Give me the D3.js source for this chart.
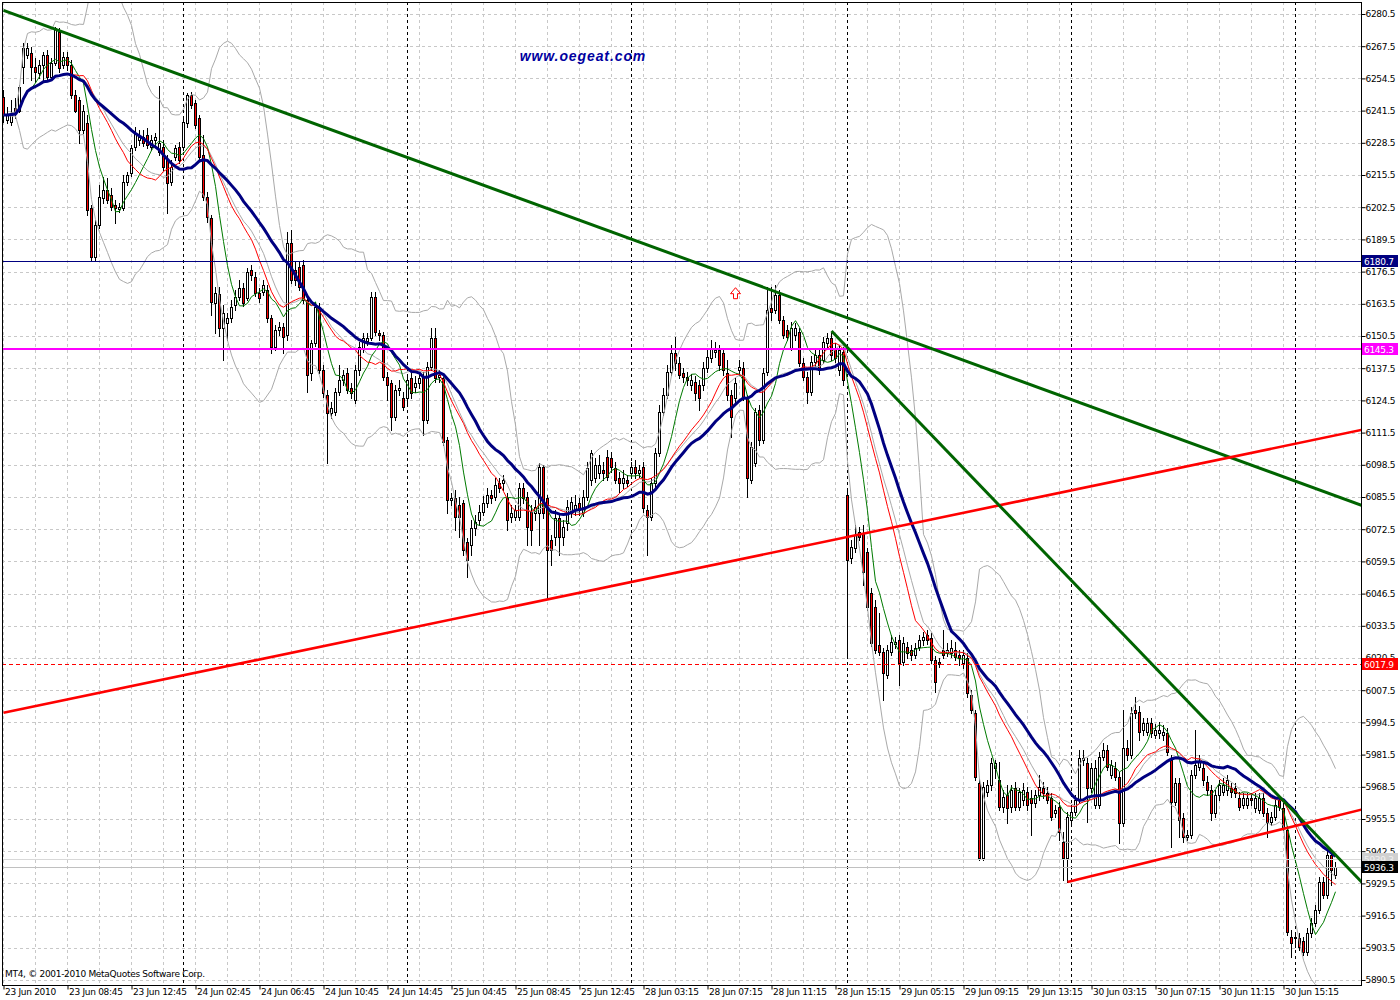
<!DOCTYPE html>
<html><head><meta charset="utf-8">
<script src="https://cdn.jsdelivr.net/npm/d3@7"></script>
<style>
body{margin:0;background:#fff;}
svg{display:block;}
text{font-family:'DejaVu Sans','Liberation Sans',Arial,sans-serif;}
</style>
</head><body>
<svg id="c" width="1400" height="1000"></svg>
<script>
// ---------------- DATA (15-minute candles, index 0..333) ----------------
const opens=[
6247.0,6237.7,6236.9,6242.5,6241.3,6259.1,6263.9,6264.8,6259.1,6256.7,
6259.9,6263.9,6255.1,6260.7,6273.2,6259.9,6263.1,6259.9,6247.8,6245.8,
6233.7,6236.5,6202.2,6182.4,6195.3,6206.2,6209.4,6207.4,6203.4,6201.8,
6202.2,6212.7,6216.3,6226.8,6229.6,6230.9,6231.6,6226.8,6229.6,6224.8,
6226.8,6221.6,6212.7,6222.8,6226.8,6226.8,6236.5,6247.8,6244.6,6238.5,
6223.6,6206.6,6198.1,6163.8,6167.4,6153.7,6155.8,6157.8,6163.0,6166.2,
6169.9,6165.8,6177.1,6174.3,6167.8,6168.2,6169.1,6157.8,6146.1,6152.9,
6154.2,6150.9,6188.0,6177.1,6178.3,6179.2,6165.0,6135.6,6147.7,6162.2,
6136.8,6126.7,6119.4,6119.8,6128.0,6132.8,6135.6,6129.5,6124.7,6136.8,
6145.7,6148.5,6149.7,6166.2,6151.7,6150.9,6134.0,6131.5,6117.8,6128.7,
6125.5,6125.5,6133.6,6129.9,6131.5,6134.0,6116.6,6138.0,6149.7,6134.0,
6133.6,6108.5,6084.3,6085.1,6082.3,6083.1,6067.4,6066.3,6072.9,6076.2,
6079.5,6083.1,6086.3,6085.5,6091.2,6091.2,6085.1,6077.4,6077.4,6077.4,
6089.2,6085.5,6079.5,6079.1,6079.1,6097.6,6085.1,6068.2,6069.4,6077.0,
6069.4,6075.0,6079.1,6080.3,6083.1,6079.1,6085.5,6092.5,6093.2,6095.2,
6096.4,6101.6,6101.2,6097.2,6093.2,6091.2,6092.5,6095.2,6097.6,6095.2,
6097.6,6080.3,6077.4,6091.2,6103.3,6119.8,6126.7,6136.0,6143.7,6139.6,
6135.6,6134.0,6130.7,6131.9,6130.7,6130.7,6137.6,6141.6,6144.1,6144.9,
6143.7,6135.6,6126.7,6125.5,6136.8,6137.6,6125.9,6092.5,6099.2,6120.6,
6108.5,6136.0,6161.7,6161.0,6167.0,6157.0,6152.9,6145.7,6150.9,6152.1,
6139.6,6134.0,6128.0,6140.0,6142.8,6140.8,6147.7,6149.7,6145.7,6136.8,
6144.1,6086.3,6060.9,6064.9,6071.4,6071.0,6063.3,6046.8,6041.1,6025.8,
6022.9,6013.7,6022.9,6026.2,6027.8,6018.9,6025.0,6023.7,6021.7,6025.0,
6027.8,6029.8,6028.6,6019.7,6018.9,6023.7,6022.5,6022.5,6023.7,6021.7,
6018.5,6020.5,6005.6,5998.4,5970.0,5939.8,5966.4,5969.2,5976.1,5971.3,
5960.4,5965.2,5960.4,5968.0,5960.4,5963.2,5966.4,5964.0,5962.0,5965.2,
5968.0,5966.0,5964.0,5957.9,5960.4,5946.3,5939.8,5955.1,5958.3,5963.2,
5979.3,5978.1,5968.0,5961.2,5961.2,5980.6,5983.3,5973.3,5976.1,5972.5,
5953.9,5984.2,5981.4,5999.5,5998.7,5991.4,5990.6,5994.3,5989.4,5990.2,
5989.4,5990.2,5979.3,5962.4,5970.0,5955.9,5948.3,5949.1,5973.3,5976.5,
5976.1,5970.5,5967.2,5957.9,5965.2,5966.4,5967.2,5968.0,5968.0,5964.0,
5961.2,5961.2,5964.0,5959.9,5959.2,5964.0,5957.9,5954.3,5956.3,5963.2,
5959.9,5951.1,5907.9,5907.5,5907.5,5906.3,5901.8,5909.5,5913.5,5918.8,
5930.1,5924.9,5941.0,5932.9];
const highs=[
6249.8,6243.0,6245.8,6246.6,6251.8,6268.8,6268.8,6267.2,6262.7,6261.9,
6265.2,6266.0,6262.7,6275.3,6274.8,6265.2,6265.2,6261.9,6249.8,6247.0,
6243.8,6239.7,6203.4,6197.3,6211.5,6214.7,6214.3,6210.3,6205.4,6204.2,
6215.5,6216.7,6227.6,6234.9,6233.7,6233.7,6234.5,6231.6,6232.5,6251.4,
6229.6,6223.6,6221.6,6227.6,6228.8,6238.5,6248.6,6249.0,6245.8,6239.7,
6231.6,6208.6,6199.4,6170.3,6170.3,6163.0,6159.8,6165.0,6169.1,6173.1,
6171.9,6177.9,6179.2,6176.3,6169.9,6173.1,6171.1,6159.0,6155.0,6156.2,
6155.8,6192.5,6193.3,6180.3,6180.3,6181.1,6166.6,6148.7,6164.2,6163.8,
6138.8,6128.7,6123.9,6129.5,6138.8,6136.8,6137.6,6131.5,6138.8,6148.1,
6151.7,6151.7,6168.2,6168.2,6152.9,6152.1,6136.0,6132.8,6130.7,6132.8,
6128.0,6134.8,6136.0,6134.4,6136.0,6136.0,6140.0,6153.7,6153.7,6136.8,
6135.6,6109.7,6087.1,6088.3,6085.5,6084.3,6069.0,6076.2,6078.2,6082.3,
6086.0,6089.2,6088.3,6093.2,6093.2,6094.4,6087.1,6082.3,6082.3,6091.2,
6091.2,6087.7,6082.3,6084.3,6099.2,6098.4,6086.3,6070.2,6080.3,6079.1,
6076.2,6084.3,6085.5,6086.3,6085.1,6088.3,6099.6,6104.5,6101.2,6102.4,
6099.6,6104.5,6103.7,6099.6,6095.6,6096.4,6094.4,6099.6,6100.4,6098.4,
6099.6,6082.3,6093.2,6105.3,6122.7,6129.5,6138.8,6146.9,6150.1,6142.0,
6137.6,6136.0,6135.2,6134.4,6132.8,6140.0,6144.9,6148.9,6148.1,6146.9,
6145.7,6140.8,6128.7,6133.6,6140.8,6140.0,6126.7,6107.7,6121.4,6122.7,
6137.6,6170.3,6170.3,6171.1,6169.1,6158.6,6155.0,6156.2,6155.8,6153.7,
6141.6,6136.0,6142.4,6144.9,6144.9,6150.1,6151.7,6151.7,6147.7,6146.9,
6146.1,6088.3,6068.2,6074.2,6073.4,6074.2,6064.9,6048.8,6043.9,6038.7,
6024.5,6025.8,6029.8,6029.0,6029.8,6029.0,6027.0,6025.8,6026.6,6029.8,
6031.0,6031.8,6030.6,6021.3,6020.5,6031.8,6026.6,6027.8,6027.0,6023.7,
6023.7,6022.5,6007.6,5999.5,5972.1,5970.5,5971.3,5980.2,5979.3,5978.5,
5967.2,5969.2,5969.2,5970.5,5968.0,5970.0,5968.4,5967.2,5967.2,5973.3,
5970.5,5968.4,5966.0,5961.2,5962.4,5950.3,5958.3,5961.2,5965.3,5983.3,
5983.3,5980.2,5978.1,5979.3,5982.5,5986.2,5985.4,5979.3,5978.5,5974.5,
5999.5,5987.5,6000.7,6004.8,6001.1,5996.3,5996.3,5996.3,5993.9,5994.7,
5993.5,5992.2,5981.4,5972.1,5972.1,5957.9,5951.1,5975.3,5991.4,5981.4,
5978.1,5972.9,5969.2,5967.2,5971.3,5972.1,5973.3,5970.0,5970.0,5966.4,
5966.0,5966.0,5966.0,5966.0,5966.0,5966.0,5959.9,5958.3,5963.2,5965.2,
5962.0,5952.7,5910.7,5909.5,5909.5,5907.9,5911.5,5915.6,5920.8,5932.1,
5932.1,5943.0,5942.2,5938.2];
const lows=[
6236.9,6236.5,6235.7,6238.5,6240.9,6252.6,6262.7,6253.9,6253.1,6254.7,
6253.1,6253.9,6253.9,6259.9,6257.1,6258.7,6257.9,6246.6,6240.9,6228.4,
6232.5,6199.4,6181.1,6181.1,6194.1,6204.2,6204.2,6201.4,6196.1,6200.6,
6201.4,6211.5,6215.1,6225.6,6227.6,6227.2,6226.4,6225.6,6227.6,6223.6,
6217.5,6200.2,6211.5,6221.6,6220.4,6225.6,6234.9,6242.5,6234.5,6221.6,
6205.4,6196.5,6159.0,6151.7,6150.5,6140.8,6148.9,6156.2,6161.0,6165.0,
6162.6,6165.0,6173.1,6166.6,6164.2,6167.0,6156.2,6143.7,6144.9,6150.9,
6143.7,6148.7,6171.9,6171.1,6169.1,6163.8,6128.0,6132.8,6146.5,6135.6,
6125.9,6099.2,6117.4,6118.6,6126.7,6130.7,6127.5,6125.5,6123.5,6134.8,
6144.1,6146.9,6148.9,6150.9,6148.9,6132.8,6124.7,6112.6,6116.6,6126.7,
6120.6,6122.7,6125.5,6128.0,6129.5,6110.6,6115.4,6136.8,6131.9,6131.9,
6106.5,6079.1,6082.3,6072.2,6069.4,6062.1,6053.2,6062.1,6070.2,6074.2,
6078.2,6081.5,6083.1,6084.3,6087.7,6088.3,6072.2,6075.4,6076.2,6076.2,
6083.1,6066.3,6066.3,6076.2,6066.3,6077.0,6044.7,6058.1,6066.3,6062.1,
6066.3,6072.2,6077.4,6078.2,6078.2,6077.8,6084.3,6090.4,6091.6,6093.2,
6092.5,6092.5,6095.6,6091.2,6087.7,6089.2,6089.9,6093.6,6093.2,6093.6,
6079.5,6062.1,6076.2,6089.5,6102.0,6118.6,6125.5,6134.8,6136.8,6133.6,
6131.9,6130.7,6128.7,6124.7,6120.6,6128.7,6136.0,6140.0,6142.0,6136.8,
6134.8,6124.7,6109.7,6123.9,6134.8,6124.7,6085.5,6091.2,6098.0,6106.5,
6107.3,6134.8,6157.0,6159.8,6155.8,6149.7,6148.9,6144.9,6148.9,6138.4,
6132.8,6123.5,6126.7,6138.4,6135.2,6139.6,6146.1,6140.8,6140.0,6134.8,
6130.7,6020.9,6058.9,6063.3,6068.2,6050.0,6039.9,6025.4,6022.5,6021.7,
6003.6,6012.4,6021.7,6024.5,6009.6,6017.7,6020.5,6019.7,6020.5,6023.7,
6025.8,6026.2,6018.5,6006.8,6016.9,6020.5,6021.3,6020.9,6019.7,6017.7,
6016.5,6004.8,5998.4,5971.3,5939.0,5939.0,5964.8,5967.2,5972.1,5959.2,
5958.3,5953.9,5958.3,5959.2,5959.2,5961.2,5959.2,5949.1,5960.4,5963.2,
5964.0,5962.0,5955.1,5956.3,5947.1,5930.9,5930.1,5953.9,5957.1,5962.0,
5977.3,5954.3,5966.4,5959.9,5959.9,5979.3,5975.3,5972.1,5971.3,5945.9,
5952.7,5979.3,5980.2,5996.3,5987.5,5989.4,5989.4,5988.6,5988.2,5988.2,
5987.5,5981.4,5944.3,5961.2,5948.3,5946.3,5947.1,5947.9,5972.1,5975.3,
5969.2,5965.2,5955.1,5956.3,5963.2,5965.2,5965.2,5964.4,5964.4,5959.2,
5959.9,5959.9,5961.2,5958.3,5957.9,5956.7,5948.3,5953.1,5955.1,5959.2,
5951.1,5908.7,5899.8,5903.9,5902.6,5900.6,5900.6,5907.9,5912.3,5917.6,
5923.6,5923.6,5928.9,5931.7];
const closes=[
6239.7,6239.7,6240.5,6240.5,6251.0,6266.8,6266.8,6259.1,6257.1,6259.9,
6263.9,6255.1,6260.7,6274.8,6258.7,6263.1,6259.9,6247.8,6241.3,6233.7,
6241.3,6201.4,6182.4,6195.3,6206.6,6209.4,6205.4,6202.6,6202.2,6202.6,
6212.7,6215.5,6226.4,6232.5,6230.9,6228.4,6227.6,6229.6,6230.9,6228.4,
6218.7,6212.3,6218.7,6226.4,6221.6,6236.9,6247.8,6243.8,6235.7,6222.8,
6206.6,6198.6,6164.2,6167.8,6153.7,6159.8,6157.8,6162.2,6166.2,6169.9,
6163.8,6176.3,6175.1,6167.8,6165.8,6171.1,6157.8,6146.1,6152.9,6154.2,
6150.1,6188.0,6173.1,6173.1,6170.3,6165.0,6134.8,6147.7,6162.2,6136.8,
6127.5,6119.4,6121.4,6128.0,6132.8,6134.8,6128.7,6127.5,6136.8,6146.1,
6149.7,6149.7,6166.2,6152.1,6150.9,6134.0,6130.7,6117.8,6128.7,6129.5,
6121.8,6132.8,6127.5,6131.5,6133.6,6116.6,6138.0,6149.7,6133.6,6134.8,
6107.7,6084.3,6085.1,6077.4,6077.4,6064.1,6060.2,6072.9,6075.4,6079.5,
6083.1,6086.3,6085.1,6090.4,6089.2,6092.5,6076.2,6079.1,6080.3,6089.2,
6085.1,6073.4,6072.2,6081.5,6097.6,6079.1,6064.1,6064.1,6077.0,6069.4,
6073.4,6081.5,6083.5,6082.3,6080.3,6085.5,6097.2,6103.3,6098.4,6098.4,
6095.2,6093.6,6097.6,6092.5,6091.2,6093.2,6091.2,6097.6,6095.2,6096.4,
6081.1,6077.4,6091.2,6103.3,6119.8,6126.7,6136.0,6143.7,6139.6,6134.8,
6134.0,6132.8,6132.8,6127.5,6125.5,6137.6,6142.0,6145.7,6144.9,6138.8,
6136.8,6126.7,6117.8,6131.5,6138.0,6125.9,6093.2,6105.7,6119.8,6108.5,
6135.6,6161.0,6160.2,6167.0,6157.0,6150.9,6150.1,6153.7,6153.7,6139.6,
6134.0,6128.0,6140.0,6142.8,6136.8,6148.1,6149.7,6142.8,6141.6,6144.9,
6132.8,6060.2,6065.3,6070.2,6069.4,6055.2,6041.1,6026.6,6023.7,6022.9,
6014.5,6023.7,6027.0,6027.0,6018.5,6026.6,6022.5,6021.7,6024.5,6027.8,
6029.0,6027.8,6019.7,6010.8,6018.1,6021.7,6023.7,6024.5,6020.9,6020.5,
6021.7,6006.4,5999.5,5972.5,5939.8,5968.4,5969.2,5978.1,5978.1,5960.4,
5964.4,5959.9,5967.2,5960.4,5966.4,5967.2,5961.2,5962.0,5965.2,5968.4,
5966.0,5963.2,5956.3,5959.2,5950.3,5939.8,5956.3,5958.3,5963.2,5980.2,
5980.2,5968.0,5976.1,5976.1,5980.6,5983.3,5976.5,5977.3,5972.5,5953.9,
5984.2,5981.4,5998.3,5998.3,5990.6,5994.3,5994.3,5990.2,5991.4,5991.4,
5990.6,5982.5,5962.4,5970.0,5955.1,5948.3,5949.1,5973.3,5977.3,5978.5,
5971.3,5967.2,5957.9,5965.2,5969.2,5969.2,5971.3,5966.4,5966.0,5960.4,
5964.0,5964.0,5963.2,5964.0,5964.0,5957.9,5954.3,5956.3,5961.2,5960.4,
5952.3,5909.9,5905.5,5907.9,5903.9,5901.8,5909.5,5913.5,5918.8,5930.1,
5924.9,5941.0,5935.0,5936.3];

const timeLabels=["23 Jun 2010","23 Jun 08:45","23 Jun 12:45","24 Jun 02:45","24 Jun 06:45","24 Jun 10:45","24 Jun 14:45",
"25 Jun 04:45","25 Jun 08:45","25 Jun 12:45","28 Jun 03:15","28 Jun 07:15","28 Jun 11:15","28 Jun 15:15",
"29 Jun 05:15","29 Jun 09:15","29 Jun 13:15","30 Jun 03:15","30 Jun 07:15","30 Jun 11:15","30 Jun 15:15"];
const timeLabelBars=[0,16,32,48,64,80,96,112,128,144,160,176,192,208,224,240,256,272,288,304,320];
const daySeparatorBars=[45,101,157,211,267,323];
const priceTicks=[5890.5,5903.5,5916.5,5929.5,5942.5,5955.5,5968.5,5981.5,5994.5,6007.5,6020.5,6033.5,6046.5,6059.5,
6072.5,6085.5,6098.5,6111.5,6124.5,6137.5,6150.5,6163.5,6176.5,6189.5,6202.5,6215.5,6228.5,6241.5,6254.5,6267.5,6280.5];
const levelNavy=6180.7, levelMagenta=6145.3, levelRed=6017.9, askPrice=5939.3, bidPrice=5936.3;
// trend lines: [bar index, price] anchor pairs (drawn as rays to the right)
const trendGreenLong=[[0,6282.0],[333,6086.0]];
const trendRedLong=[[0,5998.4],[333,6110.4]];
const trendGreenSteep=[[207,6152.5],[333,5941.0]];
const trendRedShort=[[266,5930.1],[333,5956.7]];
const arrowMark=[183,6170.0];
const maFast=8, maMid=18, maSlow=27, bbPeriod=20, bbDev=2;

// ---------------- LAYOUT ----------------
const L=2,T=2,R=1361,B=985;
const n=closes.length;
const xs=d3.scaleLinear().domain([0,n-1]).range([3.5,3.5+4*(n-1)]);
const ys=d3.scaleLinear().domain([5890.5,6280.5]).range([980,14]);
const svg=d3.select('#c');
svg.append('rect').attr('width',1400).attr('height',1000).attr('fill','#fff');
svg.append('defs').append('clipPath').attr('id','clip').append('rect')
  .attr('x',L).attr('y',T).attr('width',R-L).attr('height',B-T);
const plot=svg.append('g').attr('clip-path','url(#clip)');
const ry=v=>Math.round(ys(v))+0.5;
const FS='9px', LS='-0.3px';

// grid
const grid=plot.append('g').attr('stroke','#c8c8c8').attr('stroke-width',1).attr('stroke-dasharray','3,3');
priceTicks.forEach(p=>grid.append('line').attr('x1',L).attr('x2',R).attr('y1',ry(p)).attr('y2',ry(p)));
d3.range(0,n,8).forEach(i=>{ if(daySeparatorBars.includes(i)) return;
  grid.append('line').attr('x1',xs(i)).attr('x2',xs(i)).attr('y1',T).attr('y2',B);});
// day separators
daySeparatorBars.forEach(i=>plot.append('line').attr('x1',xs(i)).attr('x2',xs(i)).attr('y1',T).attr('y2',B)
  .attr('stroke','#000').attr('stroke-dasharray','3,3'));

// candles
const cg=plot.append('g').attr('shape-rendering','crispEdges');
for(let i=0;i<n;i++){
  const cx=xs(i), o=opens[i], c=closes[i];
  const hy=Math.round(ys(highs[i])), ly=Math.round(ys(lows[i]));
  cg.append('rect').attr('x',cx-0.5).attr('width',1).attr('y',hy).attr('height',Math.max(1,ly-hy+1)).attr('fill','#000');
  const top=Math.round(ys(Math.max(o,c))), bot=Math.round(ys(Math.min(o,c)));
  cg.append('rect').attr('x',cx-1.5).attr('width',3).attr('y',top).attr('height',bot-top+1).attr('fill','#000');
  if(bot-top>=2) cg.append('rect').attr('x',cx-0.5).attr('width',1).attr('y',top+1).attr('height',bot-top-1)
      .attr('fill',c>=o?'#fff':'#ff0000');
}

// indicators
function sma(a,p){return a.map((_,i)=>d3.mean(a.slice(Math.max(0,i-p+1),i+1)));}
function sdev(a,p){return a.map((_,i)=>{const s=a.slice(Math.max(0,i-p+1),i+1);const m=d3.mean(s);
  return Math.sqrt(d3.mean(s.map(v=>(v-m)*(v-m))));});}
const mid=sma(closes,bbPeriod), sd=sdev(closes,bbPeriod);
const up=mid.map((m,i)=>m+bbDev*sd[i]), dn=mid.map((m,i)=>m-bbDev*sd[i]);
const line=d3.line().x((d,i)=>xs(i)).y(d=>ys(d));
[up,mid,dn].forEach(s=>plot.append('path').attr('d',line(s)).attr('fill','none').attr('stroke','#a9a9a9').attr('stroke-width',1));
plot.append('path').attr('d',line(sma(closes,maFast))).attr('fill','none').attr('stroke','#007a00').attr('stroke-width',1);
plot.append('path').attr('d',line(sma(closes,maMid))).attr('fill','none').attr('stroke','#ff0000').attr('stroke-width',1);
plot.append('path').attr('d',line(sma(closes,maSlow))).attr('fill','none').attr('stroke','#000080').attr('stroke-width',3);

// horizontal levels
plot.append('line').attr('x1',L).attr('x2',R).attr('y1',ry(askPrice)).attr('y2',ry(askPrice)).attr('stroke','#d8d8d8');
plot.append('line').attr('x1',L).attr('x2',R).attr('y1',ry(bidPrice)).attr('y2',ry(bidPrice)).attr('stroke','#c0c0c0');
plot.append('line').attr('x1',L).attr('x2',R).attr('y1',ry(levelNavy)).attr('y2',ry(levelNavy)).attr('stroke','#000080');
plot.append('line').attr('x1',L).attr('x2',R).attr('y1',Math.round(ys(levelMagenta))).attr('y2',Math.round(ys(levelMagenta))).attr('stroke','#ff00ff').attr('stroke-width',2);
plot.append('line').attr('x1',L).attr('x2',R).attr('y1',ry(levelRed)).attr('y2',ry(levelRed)).attr('stroke','#ff0000').attr('stroke-dasharray','4,3');

// trend lines (rays)
function ray(pts,color,w){
  const x1=xs(pts[0][0]),y1=ys(pts[0][1]),x2=xs(pts[1][0]),y2=ys(pts[1][1]);
  const k=(y2-y1)/(x2-x1), xe=R+5;
  plot.append('line').attr('x1',x1).attr('y1',y1).attr('x2',xe).attr('y2',y1+k*(xe-x1))
    .attr('stroke',color).attr('stroke-width',w);
}
ray(trendGreenLong,'#006400',3);
ray(trendRedLong,'#ff0000',2.6);
ray(trendGreenSteep,'#006400',3);
ray(trendRedShort,'#ff0000',2.6);

// arrow object
{const ax=xs(arrowMark[0]), ay=ys(arrowMark[1]);
 plot.append('path').attr('d',`M${ax},${ay} L${ax+5},${ay+6} L${ax+2},${ay+6} L${ax+2},${ay+11} L${ax-2},${ay+11} L${ax-2},${ay+6} L${ax-5},${ay+6} Z`)
  .attr('fill','#fff').attr('stroke','#ff0000').attr('stroke-width',1);}

// texts
svg.append('text').attr('x',583).attr('y',61).attr('text-anchor','middle')
  .style('font-family',"'Liberation Sans',Arial,sans-serif")
  .style('font-weight','bold').style('font-style','italic').style('font-size','14px').style('letter-spacing','0.9px')
  .attr('fill','#0000a0').text('www.oegeat.com');
svg.append('text').attr('x',5).attr('y',977).style('font-size',FS).style('letter-spacing',LS)
  .attr('fill','#000').text('MT4, © 2001-2010 MetaQuotes Software Corp.');

// axes
const yAxis=d3.axisRight(ys).tickValues(priceTicks).tickSize(4).tickFormat(d3.format('.1f'));
const ya=svg.append('g').attr('transform',`translate(${R+0.5},0)`).call(yAxis);
ya.select('.domain').remove();
ya.selectAll('text').attr('x',4).style('font-size',FS).style('letter-spacing',LS).style('font-family',null).attr('fill','#000');
ya.selectAll('line').attr('stroke','#000');

const xAxis=d3.axisBottom(xs).tickValues(timeLabelBars).tickSize(4).tickFormat((d,i)=>timeLabels[i]);
const xa=svg.append('g').attr('transform',`translate(0,${B+0.5})`).call(xAxis);
xa.select('.domain').remove();
xa.selectAll('text').attr('text-anchor','start').attr('x',1).attr('y',3).style('font-size',FS).style('letter-spacing',LS).attr('fill','#000');
xa.selectAll('line').attr('stroke','#000');
svg.selectAll('.tick text').attr('font-family',null);
svg.selectAll('g').filter(function(){return this.getAttribute('font-family');}).attr('font-family',null).attr('font-size',null);

// frame
svg.append('rect').attr('x',L+0.5).attr('y',T+0.5).attr('width',R-L).attr('height',B-T)
  .attr('fill','none').attr('stroke','#000');

// price labels on the right
function tag(p,bg,fg){
  const yy=Math.round(ys(p));
  svg.append('rect').attr('x',R+1).attr('y',yy-6).attr('width',36).attr('height',12).attr('fill',bg);
  svg.append('text').attr('x',R+3).attr('y',yy+4).style('font-size',FS).style('letter-spacing',LS)
    .attr('fill',fg).text(p.toFixed(1));
}
tag(askPrice,'#d0d0d0','#f0f0f0');
tag(bidPrice,'#000','#fff');
tag(levelNavy,'#000080','#fff');
tag(levelMagenta,'#ff00ff','#fff');
tag(levelRed,'#ff0000','#fff');
</script>
</body></html>
